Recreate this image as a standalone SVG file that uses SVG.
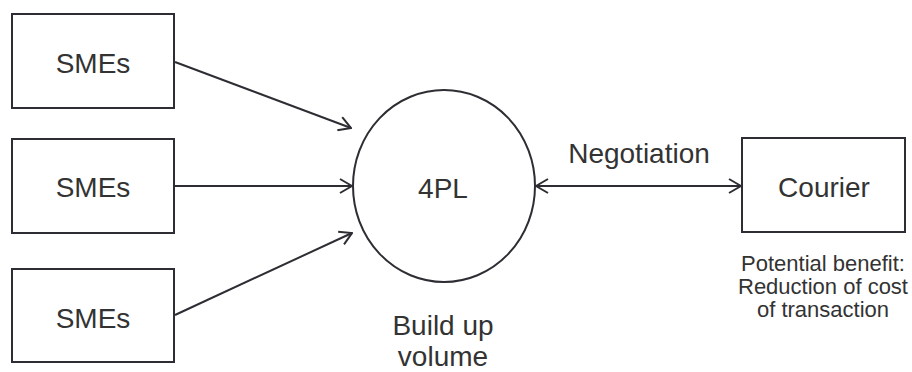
<svg xmlns="http://www.w3.org/2000/svg" width="912" height="372" viewBox="0 0 912 372">
<defs>
<style>
.box{fill:#fff;stroke:#2d2d33;stroke-width:2}
.lbl{font-family:"Liberation Sans",Arial,sans-serif;font-size:28px;fill:#333;text-anchor:middle}
.small{font-family:"Liberation Sans",Arial,sans-serif;font-size:22px;fill:#333;text-anchor:middle}
.edge{fill:none;stroke:#2d2d33;stroke-width:2}
</style>
<marker id="arr" viewBox="0 0 14 16" refX="13" refY="8" markerWidth="14" markerHeight="16" markerUnits="userSpaceOnUse" orient="auto-start-reverse">
<path d="M1,1 L13,8 L1,15" fill="none" stroke="#2d2d33" stroke-width="2"/>
</marker>
</defs>
<rect width="912" height="372" fill="#fff"/>
<g id="connectors">
<line class="edge" x1="175" y1="62" x2="351" y2="128" marker-end="url(#arr)"/>
<line class="edge" x1="175" y1="186" x2="352" y2="186" marker-end="url(#arr)"/>
<line class="edge" x1="175" y1="315" x2="352" y2="233" marker-end="url(#arr)"/>
<line class="edge" x1="536" y1="186" x2="741" y2="186" marker-start="url(#arr)" marker-end="url(#arr)"/>
<text class="lbl" x="639" y="163">Negotiation</text>
</g>
<g id="sme1">
<rect class="box" x="12" y="14" width="162" height="94"/>
<text class="lbl" x="93" y="73">SMEs</text>
</g>
<g id="sme2">
<rect class="box" x="12" y="139" width="162" height="94"/>
<text class="lbl" x="93" y="197">SMEs</text>
</g>
<g id="sme3">
<rect class="box" x="12" y="269" width="162" height="93"/>
<text class="lbl" x="93" y="328">SMEs</text>
</g>
<g id="fourpl">
<ellipse class="box" cx="444" cy="186" rx="91" ry="96"/>
<text class="lbl" x="443" y="198">4PL</text>
<text class="lbl" x="443" y="335">Build up</text>
<text class="lbl" x="443" y="366">volume</text>
</g>
<g id="courier">
<rect class="box" x="742" y="138" width="163" height="94"/>
<text class="lbl" x="824" y="197">Courier</text>
<text class="small" x="823" y="271">Potential benefit:</text>
<text class="small" x="823" y="294">Reduction of cost</text>
<text class="small" x="823" y="317">of transaction</text>
</g>
</svg>
